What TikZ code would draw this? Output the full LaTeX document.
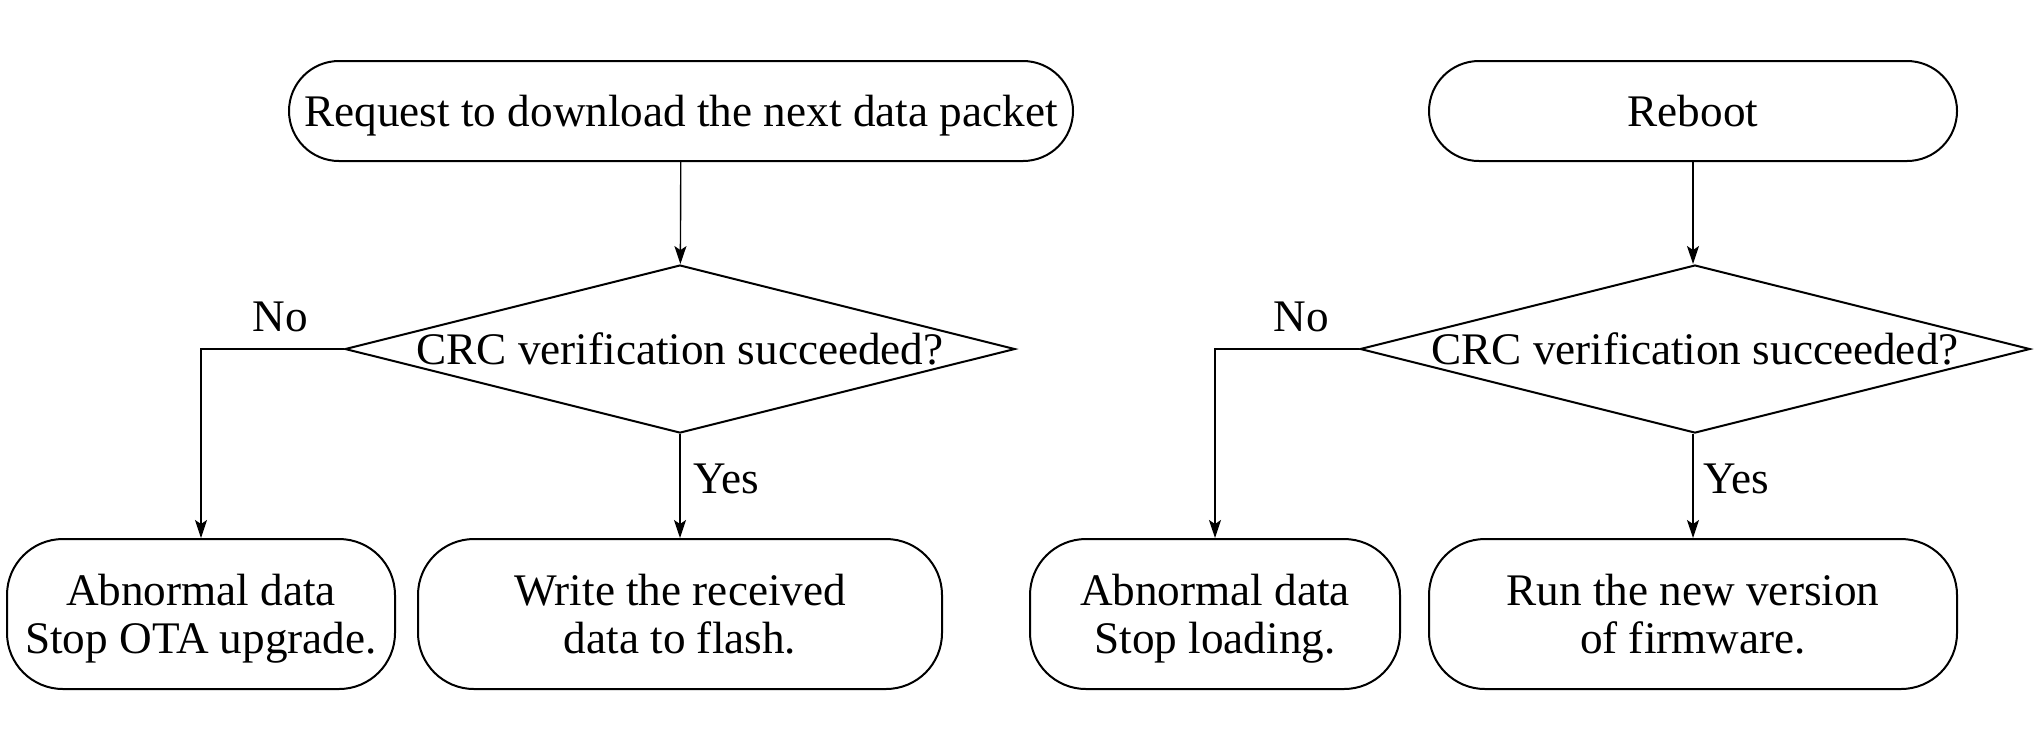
\documentclass[tikz,border=0pt]{standalone}
\usepackage{fontspec}
\setmainfont{Liberation Serif}
\usetikzlibrary{shapes.geometric,arrows.meta}
\tikzset{
    term/.style={draw, line width=1pt, rounded corners=25pt, minimum height=50pt, inner sep=0pt, text depth=0pt, align=center},
    endbox/.style={draw, line width=1pt, rounded corners=28pt, minimum height=75pt, inner sep=0pt, text depth=0pt, align=center},
    check/.style={draw, line width=1pt, diamond, minimum width=335pt, minimum height=84pt, inner sep=0pt},
    flow/.style={line width=0.7pt, -{Stealth[length=9pt, width=6pt, inset=2pt]}}
}
\begin{document}
\begin{tikzpicture}[x=0.5pt, y=-0.5pt, font=\fontsize{22.6}{24.2}\selectfont]
        \useasboundingbox (0, 0) rectangle (2039, 752);
        % left: downloading
        \node[term, minimum width=392pt] (req) at (681, 111) {Request to download the next data packet};
        \node[check] (crcA) at (680, 349) {\makebox[0pt]{CRC verification succeeded?}};
        \node[endbox, minimum width=194pt] (stopA) at (201, 614) {Abnormal data\\Stop OTA upgrade.};
        \node[endbox, minimum width=262pt] (writeA) at (680, 614) {Write the received\\data to flash.};
        \node (noA) at (280, 317) {No};
        \node (yesA) at (726, 479) {Yes};
        \draw[flow] (req) -- (crcA);
        \draw[flow] (crcA.west) -| (stopA.north);
        \draw[flow] (crcA.south) -- (writeA.north);
        % right: loading
        \node[term, minimum width=264pt] (reboot) at (1693, 111) {Reboot};
        \node[check] (crcB) at (1695, 349) {\makebox[0pt]{CRC verification succeeded?}};
        \node[endbox, minimum width=185pt] (stopB) at (1215, 614) {Abnormal data\\Stop loading.};
        \node[endbox, minimum width=264pt] (runB) at (1693, 614) {Run the new version\\of firmware.};
        \node (noB) at (1301, 317) {No};
        \node (yesB) at (1736, 479) {Yes};
        \draw[flow] (reboot) -- (crcB.north -| reboot);
        \draw[flow] (crcB.west) -| (stopB.north);
        \draw[flow] (crcB.south -| runB) -- (runB.north);
    \end{tikzpicture}
\end{document}
